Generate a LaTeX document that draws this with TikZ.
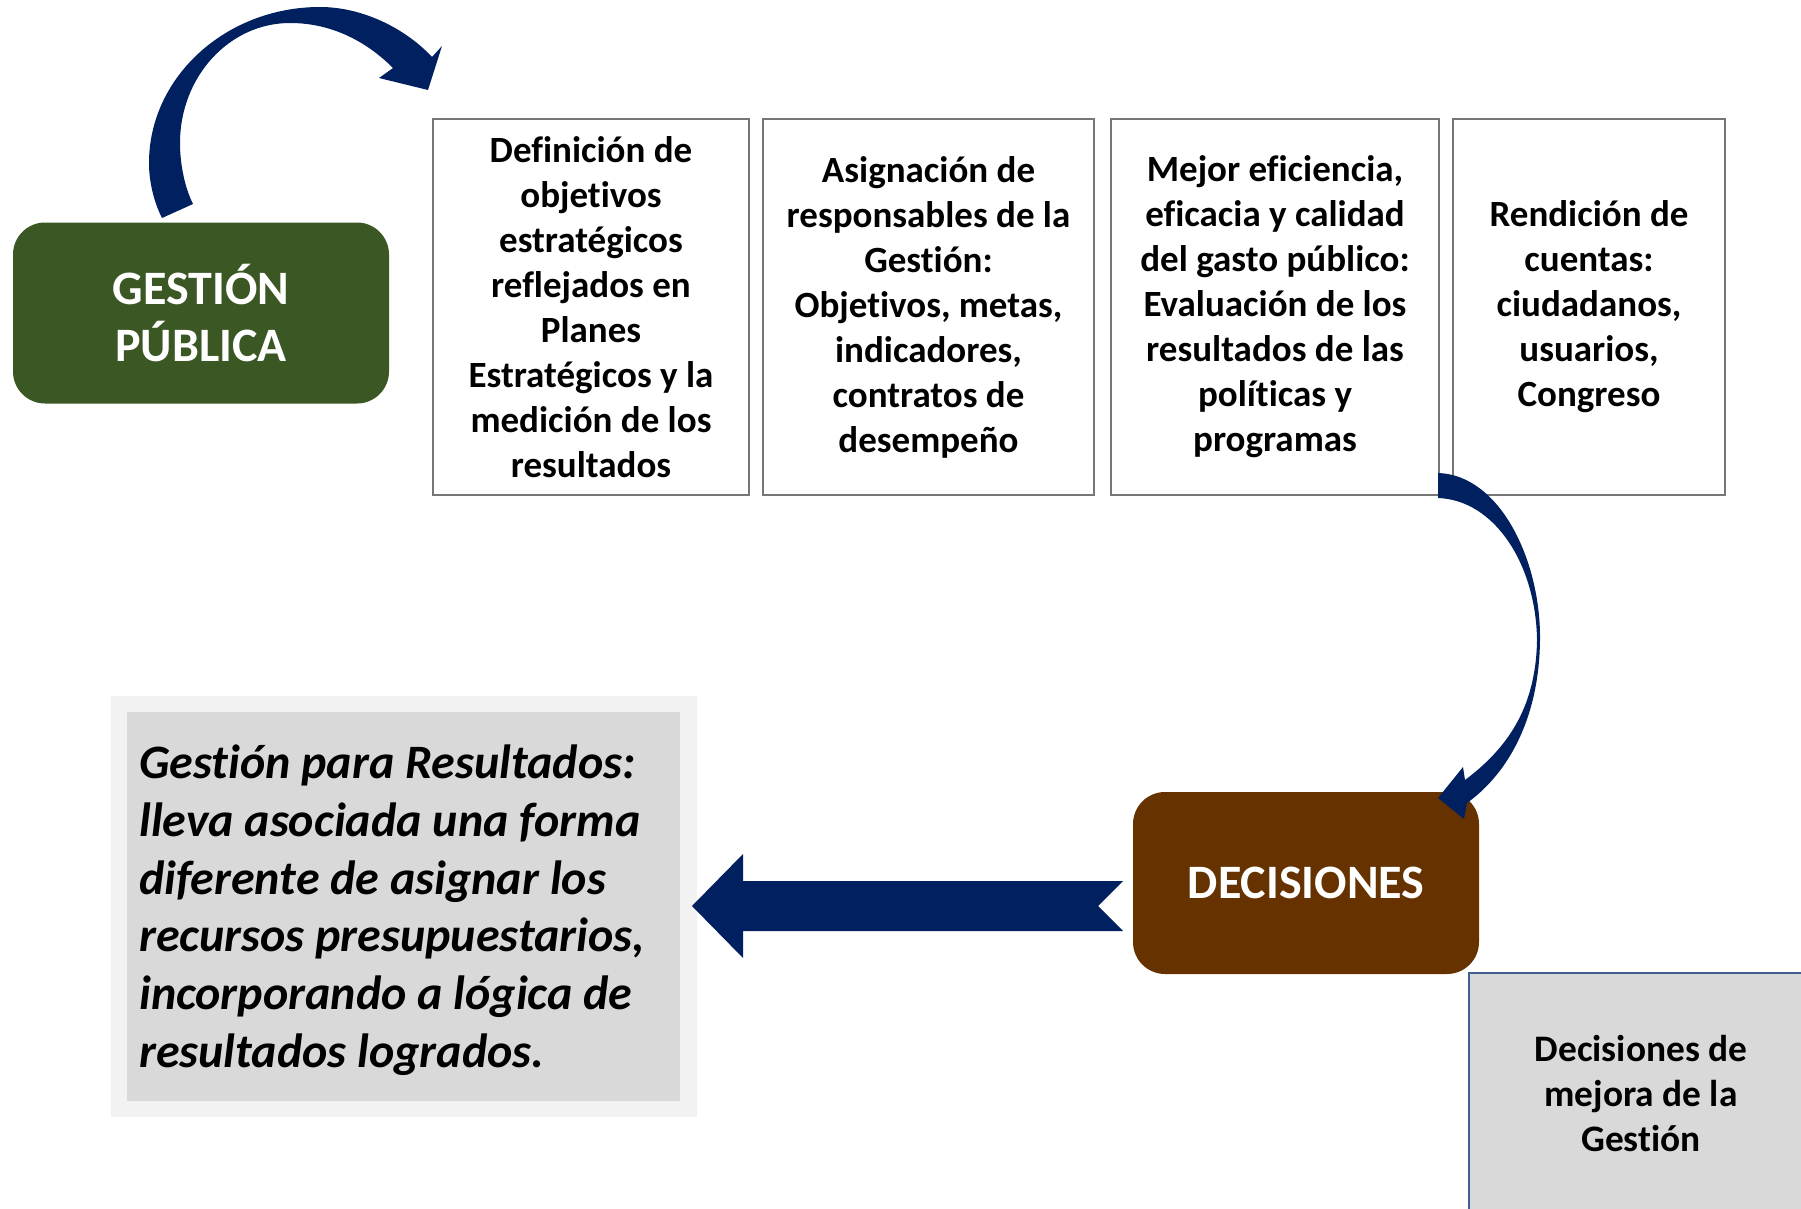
\documentclass[tikz,border=0pt]{standalone}
\usepackage{fontspec}
\setmainfont{Carlito}[Ligatures={NoCommon,NoRequired,NoContextual}, Contextuals=NoAlternate]
\definecolor{navyarrow}{HTML}{002060}
\definecolor{gpgreen}{HTML}{3B5724}
\definecolor{decbrown}{HTML}{663300}
\definecolor{boxgray}{HTML}{767676}
\definecolor{fillgray}{HTML}{D9D9D9}
\definecolor{lightgray2}{HTML}{F2F2F2}
\definecolor{bluegrayline}{HTML}{41608F}
\tikzset{
  topbox/.style={draw=boxgray, line width=2pt, fill=white, align=center, inner sep=0pt,
    font=\bfseries\fontsize{37}{45}\selectfont, minimum height=376pt},
  roundbox/.style={rounded corners=32pt, text=white, align=center, inner sep=0pt,
    font=\bfseries\fontsize{48}{57}\selectfont, minimum height=181pt},
  blockarrow/.style={fill=navyarrow}
}
\begin{document}
\begin{tikzpicture}[x=1pt,y=1pt]
\useasboundingbox (0,0) rectangle (1801,-1209);
\fill[white] (0,0) rectangle (1801,-1209);

% top boxes
\node[topbox, minimum width=316pt] (b1) at (591,-307) {Definición de\\objetivos\\estratégicos\\reflejados en\\Planes\\Estratégicos y la\\medición de los\\resultados};
\node[topbox, minimum width=331pt] (b2) at (928.5,-307) {Asignación de\\responsables de la\\Gestión:\\Objetivos, metas,\\indicadores,\\contratos de\\desempeño};
\node[topbox, minimum width=328pt] (b3) at (1275,-307) {Mejor eficiencia,\\eficacia y calidad\\del gasto público:\\Evaluación de los\\resultados de las\\políticas y\\programas};
\node[topbox, minimum width=272pt] (b4) at (1589,-307) {Rendición de\\cuentas:\\ciudadanos,\\usuarios,\\Congreso};

% green box
\node[roundbox, fill=gpgreen, minimum width=376pt] (gp) at (201,-313) {GESTIÓN\\PÚBLICA};
\node[roundbox, fill=decbrown, minimum width=346pt, minimum height=182pt] (dec) at (1306,-883) {DECISIONES};

% bottom-left text box
\fill[lightgray2] (111,-696) rectangle (697,-1117);
\fill[fillgray] (127,-712) rectangle (680,-1101);
\node[anchor=north west, align=left, inner sep=0pt,
  font=\bfseries\itshape\fontsize{48}{57.7}\selectfont] (gr) at (139,-745)
  {Gestión para Resultados:\\lleva asociada una forma\\diferente de asignar los\\recursos presupuestarios,\\incorporando a lógica de\\resultados logrados.};

% bottom-right box
\draw[fill=fillgray, draw=bluegrayline, line width=1.5pt] (1469,-973) rectangle (1830,-1240);
\node[align=center, inner sep=0pt, font=\bfseries\fontsize{37.4}{45}\selectfont] (dm) at (1641,-1094)
  {Decisiones de\\mejora de la\\Gestión};

% curved arrow top-left
\fill[blockarrow] (162,-218) .. controls (153,-200) and (149,-180) .. (149,-163)
 .. controls (149,-77) and (226,-7) .. (320,-7)
 .. controls (362,-7) and (405,-28) .. (432,-57)
 -- (442,-46) -- (428,-90) -- (379,-78) -- (393,-68)
 .. controls (365,-40) and (330,-23) .. (290,-23)
 .. controls (229,-23) and (180,-77) .. (180,-143)
 .. controls (180,-165) and (185,-188) .. (193,-204) -- cycle;

% curved arrow right
\fill[blockarrow] (1438,-473) .. controls (1500,-475) and (1540,-560) .. (1540,-637)
 .. controls (1540,-715) and (1510,-772) .. (1467,-803)
 -- (1464,-819) -- (1438,-798) -- (1463,-767) -- (1465,-780)
 .. controls (1505,-750) and (1536,-710) .. (1537,-640)
 .. controls (1536,-565) and (1495,-500) .. (1438,-498) -- cycle;

% straight arrow
\fill[blockarrow] (692,-906) -- (743,-854) -- (743,-881) -- (1123,-881) -- (1098,-906)
 -- (1123,-931) -- (743,-931) -- (743,-958) -- cycle;
\end{tikzpicture}
\end{document}
